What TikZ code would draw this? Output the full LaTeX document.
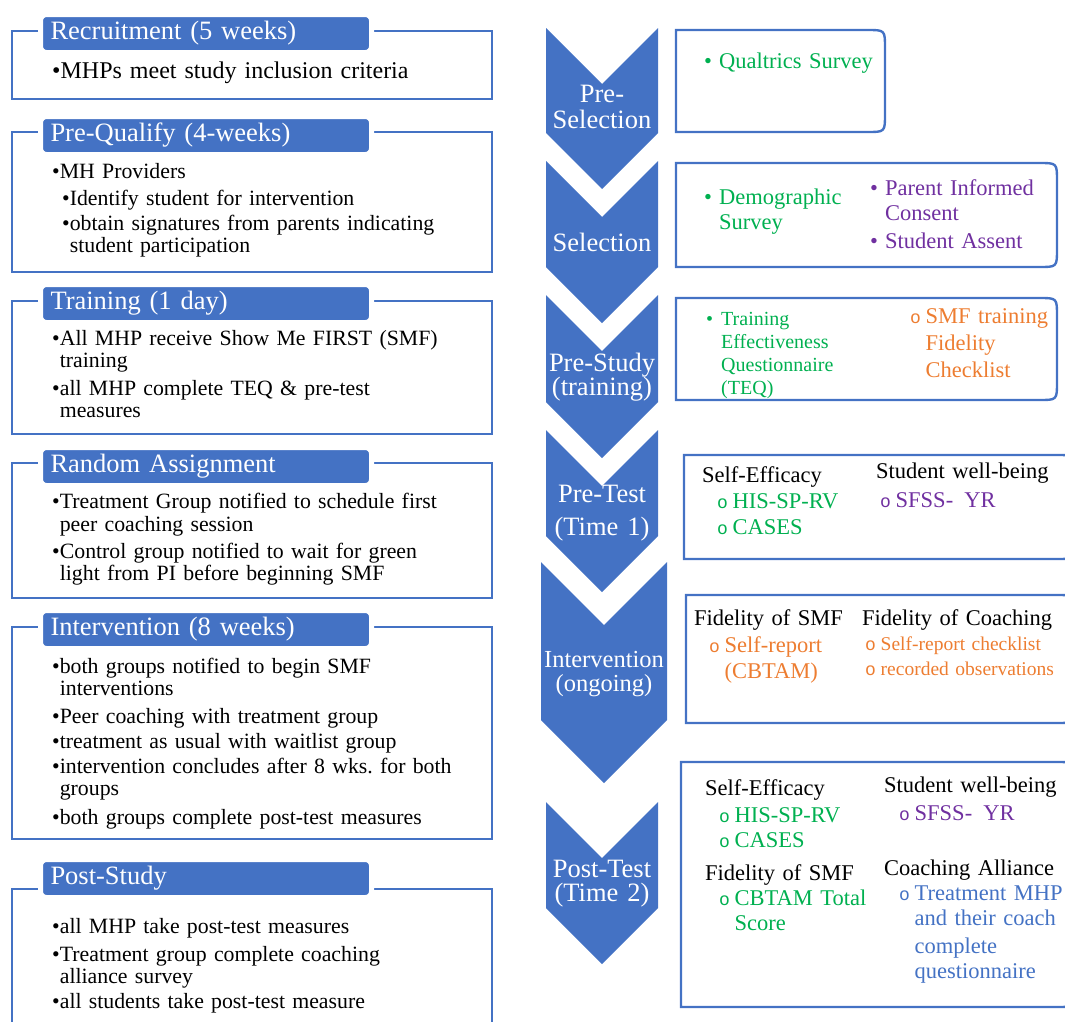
\documentclass[tikz,border=0pt]{standalone}
\usepackage{fontspec}
\setmainfont{Liberation Serif}
\newfontfamily\circfont{Liberation Mono}
\usepackage{tikz}
\frenchspacing
\newcommand{\ind}{\phantom{\textbullet}}
\newcommand{\fb}{\makebox[15pt][l]{\textbullet}}
\newcommand{\ob}{\makebox[15.5pt][l]{\circfont\fontsize{18}{18}\selectfont o}}

\begin{document}
\begin{tikzpicture}[x=1pt, y=-1pt,
    frame/.style={draw=cb, line width=2.2pt},
    tab/.style={anchor=north west, fill=cb, draw=white, line width=5pt, rounded corners=6pt,
      minimum height=38pt, text width=311pt, inner xsep=10pt, inner ysep=0pt,
      text=white, font=\fontsize{26.5}{28}\selectfont},
    body/.style={anchor=base west, inner sep=0pt, text width=435pt, align=left,
      font=\fontsize{21.8}{22}\selectfont},
    chev/.style={fill=cb},
    chevtxt/.style={anchor=base, inner sep=0pt, text width=130pt, align=center,
      text=white, font=\fontsize{26.5}{24}\selectfont},
    rbox/.style={draw=cb, line width=2.4pt},
    rtxt/.style={anchor=base west, inner sep=0pt, text width=200pt, align=left,
      font=\fontsize{22.5}{25}\selectfont},
    small/.style={font=\fontsize{19.5}{25}\selectfont}]
    \definecolor{cb}{HTML}{4472C4}\definecolor{cg}{HTML}{00B050}
    \definecolor{cp}{HTML}{7030A0}\definecolor{co}{HTML}{ED7D31}
    \useasboundingbox (0,0) rectangle (1065,1021);

    % left column: phases
    \draw[frame] (12,31) rectangle (492,99);
    \node[tab] (t1) at (38,12) {Recruitment (5 weeks)};
    \node[body, font=\fontsize{24}{26}\selectfont] (b1) at (52,78) {\textbullet MHPs meet study inclusion criteria};

    \draw[frame] (12,132) rectangle (492,272);
    \node[tab] (t2) at (38,114) {Pre-Qualify (4-weeks)};
    \node[body] (b2) at (52,178) {\textbullet MH Providers\\[5pt]
      \hspace*{10pt}\textbullet Identify student for intervention\\[3pt]
      \hspace*{10pt}\textbullet obtain signatures from parents indicating\\
      \hspace*{10pt}\ind student participation};

    \draw[frame] (12,301) rectangle (492,434);
    \node[tab] (t3) at (38,282) {Training (1 day)};
    \node[body] (b3) at (52,345) {\textbullet All MHP receive Show Me FIRST (SMF)\\
      \ind training\\[6pt]
      \textbullet all MHP complete TEQ \& pre-test\\
      \ind measures};

    \draw[frame] (12,463) rectangle (492,598);
    \node[tab] (t4) at (38,445) {Random Assignment};
    \node[body] (b4) at (52,508) {\textbullet Treatment Group notified to schedule first\\[1pt]
      \ind peer coaching session\\[5pt]
      \textbullet Control group notified to wait for green\\
      \ind light from PI before beginning SMF};

    \draw[frame] (12,627) rectangle (492,839);
    \node[tab] (t5) at (38,608) {Intervention (8 weeks)};
    \node[body] (b5) at (52,673) {\textbullet both groups notified to begin SMF\\
      \ind interventions\\[6pt]
      \textbullet Peer coaching with treatment group\\[3pt]
      \textbullet treatment as usual with waitlist group\\[3pt]
      \textbullet intervention concludes after 8 wks. for both\\
      \ind groups\\[7pt]
      \textbullet both groups complete post-test measures};

    \draw[frame] (12,1030) -- (12,889) -- (492,889) -- (492,1030);
    \node[tab] (t6) at (38,857) {Post-Study};
    \node[body] (b6) at (52,933) {\textbullet all MHP take post-test measures\\[6pt]
      \textbullet Treatment group complete coaching\\
      \ind alliance survey\\[3pt]
      \textbullet all students take post-test measure};

    % middle: chevrons
    \fill[chev] (546,28) -- (602,84) -- (658,28) -- (658,133) -- (602,189) -- (546,133) -- cycle;
    \fill[chev] (546,161) -- (602,217) -- (658,161) -- (658,267) -- (602,323) -- (546,267) -- cycle;
    \fill[chev] (546,295) -- (602,351) -- (658,295) -- (658,402) -- (602,458) -- (546,402) -- cycle;
    \fill[chev] (546,430) -- (602,486) -- (658,430) -- (658,536) -- (602,592) -- (546,536) -- cycle;
    \fill[chev] (541,562) -- (604,625) -- (667,562) -- (667,720) -- (604,783) -- (541,720) -- cycle;
    \fill[chev] (546,802) -- (602,858) -- (658,802) -- (658,908) -- (602,964) -- (546,908) -- cycle;
    \node[chevtxt] (s1) at (602,102) {Pre-\\[2pt]Selection};
    \node[chevtxt] (s2) at (602,251) {Selection};
    \node[chevtxt] (s3) at (602,371) {Pre-Study\\[-1pt](training)};
    \node[chevtxt] (s4) at (602,502) {Pre-Test\\[9pt](Time 1)};
    \node[chevtxt, font=\fontsize{24.5}{24}\selectfont] (s5) at (604,667) {Intervention\\(ongoing)};
    \node[chevtxt] (s6) at (602,877) {Post-Test\\(Time 2)};

    % right column: measures
    \draw[rbox] (676,30) -- (867,30) .. controls (885,30) .. (885,48) -- (885,114)
      .. controls (885,132) .. (867,132) -- (676,132) -- cycle;
    \node[rtxt, text=cg] (q1) at (704,68) {\fb Qualtrics Survey};

    \draw[rbox] (676,163) -- (1039,163) .. controls (1057,163) .. (1057,181) -- (1057,249)
      .. controls (1057,267) .. (1039,267) -- (676,267) -- cycle;
    \node[rtxt, text=cg] (q2) at (704,204) {\fb Demographic\\\hspace*{15pt}Survey};
    \node[rtxt, text=cp] (q3) at (870,195) {\fb Parent Informed\\\hspace*{15pt}Consent\\[3pt]\fb Student Assent};

    \draw[rbox] (676,298) -- (1039,298) .. controls (1057,298) .. (1057,316) -- (1057,382)
      .. controls (1057,400) .. (1039,400) -- (676,400) -- cycle;
    \node[rtxt, text=cg, font=\fontsize{20}{23.3}\selectfont] (q4) at (706,325)
      {\fb Training\\\hspace*{15pt}Effectiveness\\\hspace*{15pt}Questionnaire\\\hspace*{15pt}(TEQ)};
    \node[rtxt, text=co] (q5) at (910,323) {\ob SMF training\\[2pt]\hspace*{15.5pt}Fidelity\\[2pt]\hspace*{15.5pt}Checklist};

    \draw[rbox] (684,455) -- (1057,455) .. controls (1075,455) .. (1075,473) -- (1075,541)
      .. controls (1075,559) .. (1057,559) -- (684,559) -- cycle;
    \node[rtxt] (h1) at (702,482) {Self-Efficacy};
    \node[rtxt, text=cg] (q6) at (717,508) {\ob HIS-SP-RV\\[1pt]\ob CASES};
    \node[rtxt] (h2) at (876,478) {Student well-being};
    \node[rtxt, text=cp] (q7) at (880,507) {\ob SFSS-\hspace{0.5em}YR};

    \draw[rbox] (686,595) -- (1057,595) .. controls (1075,595) .. (1075,613) -- (1075,705)
      .. controls (1075,723) .. (1057,723) -- (686,723) -- cycle;
    \node[rtxt] (h3) at (694,625) {Fidelity of SMF};
    \node[rtxt, text=co] (q8) at (709,652) {\ob Self-report\\[1pt]\hspace*{15.5pt}(CBTAM)};
    \node[rtxt] (h4) at (862,625) {Fidelity of Coaching};
    \node[rtxt, small, text=co] (q9) at (865,650) {\ob Self-report checklist\\\ob recorded observations};

    \draw[rbox] (681,762) -- (1057,762) .. controls (1075,762) .. (1075,780) -- (1075,989)
      .. controls (1075,1007) .. (1057,1007) -- (681,1007) -- cycle;
    \node[rtxt] (h5) at (705,795) {Self-Efficacy};
    \node[rtxt, text=cg] (q10) at (719,822) {\ob HIS-SP-RV\\\ob CASES};
    \node[rtxt] (h6) at (705,880) {Fidelity of SMF};
    \node[rtxt, text=cg] (q11) at (719,905) {\ob CBTAM Total\\\hspace*{15.5pt}Score};
    \node[rtxt] (h7) at (884,792) {Student well-being};
    \node[rtxt, text=cp] (q12) at (899,820) {\ob SFSS-\hspace{0.5em}YR};
    \node[rtxt] (h8) at (884,875) {Coaching Alliance};
    \node[rtxt, text=cb] (q13) at (899,900) {\ob Treatment MHP\\\hspace*{15.5pt}and their coach\\[3pt]
      \hspace*{15.5pt}complete\\\hspace*{15.5pt}questionnaire};
\end{tikzpicture}
\end{document}
